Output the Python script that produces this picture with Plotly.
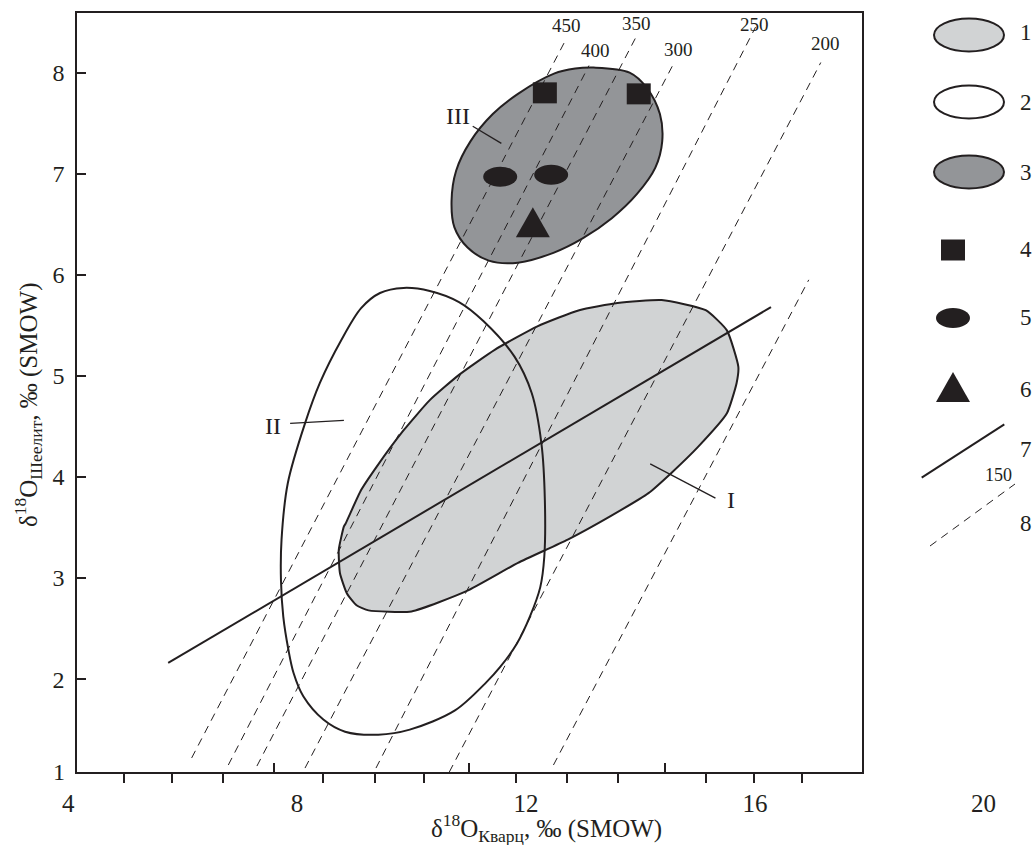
import plotly.graph_objects as go

# ---------------- data ----------------
X_RANGE = [4.157, 17.87]
Y_RANGE = [1.081, 8.59]
X_LABEL_VALUES = [8, 12, 16]
X_LABEL_OUTSIDE = [4, 20]
Y_LABEL_VALUES = [2, 3, 4, 5, 6, 7, 8]
X_TICKS_OUT = [4.97, 5.82, 6.70, 8.46, 9.36, 10.22, 11.83, 12.72, 13.61, 15.14, 15.98, 16.83]
X_TICKS_IN = [7.60, 11.00, 14.43]

# field I (light grey)
reg1_x = [8.85, 9.12, 9.39, 9.86, 10.32, 10.83, 11.46, 12.20, 12.93, 13.60, 14.37, 15.14,
          15.51, 15.71, 15.68, 15.51, 15.01, 14.54, 14.14, 13.47, 12.73, 11.86, 10.96,
          10.00, 9.25, 9.04, 8.87, 8.75, 8.73, 8.82]
reg1_y = [3.54, 3.87, 4.10, 4.46, 4.76, 5.01, 5.26, 5.49, 5.65, 5.72, 5.75, 5.65,
          5.45, 5.09, 4.93, 4.63, 4.30, 4.04, 3.84, 3.61, 3.38, 3.15, 2.87,
          2.67, 2.68, 2.73, 2.85, 3.05, 3.28, 3.51]

# field II (open)
reg2_x = [9.86, 10.32, 10.83, 11.26, 11.80, 12.10, 12.27, 12.33, 12.32, 12.25, 12.07, 11.84,
          11.55, 11.31, 10.76, 9.97, 9.42, 8.84, 8.46, 8.11, 7.94, 7.85, 7.76, 7.72, 7.73,
          7.84, 8.14, 8.40, 8.77, 9.12, 9.45]
reg2_y = [5.87, 5.84, 5.73, 5.54, 5.19, 4.83, 4.33, 3.77, 3.21, 2.91, 2.62, 2.35,
          2.12, 1.97, 1.69, 1.50, 1.45, 1.48, 1.60, 1.83, 2.06, 2.29, 2.62, 2.98, 3.38,
          3.94, 4.53, 4.93, 5.35, 5.67, 5.82]

# field III (dark grey)
reg3_x = [13.18, 13.81, 14.11, 14.34, 14.38, 14.26, 13.94, 13.50, 12.99, 12.49, 11.86, 11.35,
          10.98, 10.75, 10.70, 10.78, 11.03, 11.42, 11.86, 12.49, 12.86]
reg3_y = [8.05, 8.00, 7.85, 7.59, 7.32, 7.06, 6.80, 6.56, 6.36, 6.22, 6.12, 6.14,
          6.27, 6.47, 6.73, 7.03, 7.32, 7.59, 7.79, 7.99, 8.04]

# samples
square_x = [12.33, 13.97]
square_y = [7.80, 7.79]
oval_x = [11.55, 12.44]
oval_y = [6.97, 6.99]
tri_x = [12.12]
tri_y = [6.52]

# regression line (7)
line7_x = [5.75, 16.28]
line7_y = [2.16, 5.68]

# isotherms (8), in degrees
iso_labels = ["450", "400", "350", "300", "250", "200", ""]
iso_x0 = [6.16, 6.80, 7.30, 8.14, 9.38, 10.66, 12.48]
iso_y0 = [1.22, 1.15, 1.14, 1.12, 1.12, 1.08, 1.15]
iso_x1 = [12.69, 13.10, 13.92, 14.58, 16.01, 17.15, 16.94]
iso_y1 = [8.32, 8.07, 8.35, 8.09, 8.45, 8.10, 5.95]
iso_lab_x = [12.70, 13.22, 13.93, 14.67, 16.00, 17.24, None]
iso_lab_y = [8.47, 8.22, 8.49, 8.23, 8.48, 8.29, None]

# field names and leaders
field_names = ["I", "II", "III"]
field_lab_x = [15.58, 7.58, 10.81]
field_lab_y = [3.77, 4.50, 7.57]
leader_x0 = [14.17, 8.82, 11.57]
leader_y0 = [4.13, 4.56, 7.30]
leader_x1 = [15.31, 7.88, 11.07]
leader_y1 = [3.79, 4.53, 7.47]

legend_numbers = ["1", "2", "3", "4", "5", "6", "7", "8"]

# ---------------- style ----------------
INK = "#231f20"
LIGHT = "#d1d3d4"
DARK = "#939598"
FONT = "Liberation Serif"
W, H = 1034, 845
ML, MR, MT, MB = 77, 0, 13, 73
PLOT_RIGHT = 862
DOM = (PLOT_RIGHT - ML) / (W - ML - MR)


def px2paper_x(px):
    return (px - ML) / (W - ML - MR)


def px2paper_y(py):
    return (H - MB - py) / (H - MT - MB)


def data2paper_x(v):
    return (v - X_RANGE[0]) / (X_RANGE[1] - X_RANGE[0]) * DOM


fig = go.Figure()

# field I
fig.add_trace(go.Scatter(x=reg1_x + reg1_x[:1], y=reg1_y + reg1_y[:1], mode="lines",
                         fill="toself", fillcolor=LIGHT,
                         line=dict(color=INK, width=2, shape="spline", smoothing=0.5),
                         hoverinfo="skip", showlegend=False))
# field III
fig.add_trace(go.Scatter(x=reg3_x + reg3_x[:1], y=reg3_y + reg3_y[:1], mode="lines",
                         fill="toself", fillcolor=DARK,
                         line=dict(color=INK, width=2, shape="spline", smoothing=1.0),
                         hoverinfo="skip", showlegend=False))
# field II
fig.add_trace(go.Scatter(x=reg2_x + reg2_x[:1], y=reg2_y + reg2_y[:1], mode="lines",
                         line=dict(color=INK, width=2, shape="spline", smoothing=0.9),
                         hoverinfo="skip", showlegend=False))
# isotherms
for i in range(len(iso_x0)):
    fig.add_trace(go.Scatter(x=[iso_x0[i], iso_x1[i]], y=[iso_y0[i], iso_y1[i]], mode="lines",
                             line=dict(color=INK, width=1, dash="8px,6px"),
                             hoverinfo="skip", showlegend=False))
# regression line
fig.add_trace(go.Scatter(x=line7_x, y=line7_y, mode="lines",
                         line=dict(color=INK, width=2), hoverinfo="skip", showlegend=False))
# dummy trace for the second x axis (inside ticks)
fig.add_trace(go.Scatter(x=[X_RANGE[0]], y=[Y_RANGE[0]], xaxis="x2", mode="markers",
                         marker=dict(opacity=0), hoverinfo="skip", showlegend=False))

shapes = []
# samples as pixel-sized shapes anchored at data values
for x, y in zip(square_x, square_y):
    shapes.append(dict(type="rect", xref="x", yref="y", xsizemode="pixel", ysizemode="pixel",
                       xanchor=x, yanchor=y, x0=-12, x1=12, y0=-10.5, y1=10.5,
                       fillcolor=INK, line=dict(width=0)))
for x, y in zip(oval_x, oval_y):
    shapes.append(dict(type="circle", xref="x", yref="y", xsizemode="pixel", ysizemode="pixel",
                       xanchor=x, yanchor=y, x0=-17, x1=17, y0=-10, y1=10,
                       fillcolor=INK, line=dict(width=0)))
TRI_PATH = "M-17,-15 L17,-15 L0,15 Z"
for x, y in zip(tri_x, tri_y):
    shapes.append(dict(type="path", xref="x", yref="y", xsizemode="pixel", ysizemode="pixel",
                       xanchor=x, yanchor=y, path=TRI_PATH,
                       fillcolor=INK, line=dict(width=0)))
# leaders
for i in range(len(field_names)):
    shapes.append(dict(type="line", xref="x", yref="y", x0=leader_x0[i], y0=leader_y0[i],
                       x1=leader_x1[i], y1=leader_y1[i], line=dict(color=INK, width=1.3)))

# legend symbols
LEG_X_BIG = 969
LEG_X_SMALL = 953
leg_fill = [LIGHT, "white", DARK]
leg_y_big = [35, 102, 172]
for fc, py in zip(leg_fill, leg_y_big):
    shapes.append(dict(type="circle", xref="paper", yref="paper", xsizemode="pixel",
                       ysizemode="pixel", xanchor=px2paper_x(LEG_X_BIG), yanchor=px2paper_y(py),
                       x0=-35, x1=35, y0=-16.5, y1=16.5, fillcolor=fc,
                       line=dict(color=INK, width=2)))
shapes.append(dict(type="rect", xref="paper", yref="paper", xsizemode="pixel", ysizemode="pixel",
                   xanchor=px2paper_x(LEG_X_SMALL), yanchor=px2paper_y(250),
                   x0=-12, x1=12, y0=-10.5, y1=10.5, fillcolor=INK, line=dict(width=0)))
shapes.append(dict(type="circle", xref="paper", yref="paper", xsizemode="pixel", ysizemode="pixel",
                   xanchor=px2paper_x(LEG_X_SMALL), yanchor=px2paper_y(318),
                   x0=-17, x1=17, y0=-10, y1=10, fillcolor=INK, line=dict(width=0)))
shapes.append(dict(type="path", xref="paper", yref="paper", xsizemode="pixel", ysizemode="pixel",
                   xanchor=px2paper_x(LEG_X_SMALL), yanchor=px2paper_y(387),
                   path=TRI_PATH, fillcolor=INK, line=dict(width=0)))
shapes.append(dict(type="line", xref="paper", yref="paper",
                   x0=px2paper_x(921.7), y0=px2paper_y(477.7),
                   x1=px2paper_x(1004.3), y1=px2paper_y(424.3),
                   line=dict(color=INK, width=2)))
shapes.append(dict(type="line", xref="paper", yref="paper",
                   x0=px2paper_x(930), y0=px2paper_y(546),
                   x1=px2paper_x(1015), y1=px2paper_y(484),
                   line=dict(color=INK, width=1, dash="8px,6px")))


def note(x, y, text, size, xref="paper", yref="paper", **kw):
    return dict(x=x, y=y, xref=xref, yref=yref, text=text, showarrow=False,
                xanchor=kw.pop("xanchor", "center"), yanchor=kw.pop("yanchor", "middle"),
                font=dict(family=FONT, size=size, color=INK), **kw)


annotations = []
# isotherm labels
for lab, x, y in zip(iso_labels, iso_lab_x, iso_lab_y):
    if lab:
        annotations.append(note(x, y, lab, 19, xref="x", yref="y"))
# field labels
for lab, x, y in zip(field_names, field_lab_x, field_lab_y):
    annotations.append(note(x, y, lab, 24, xref="x", yref="y"))
# legend numbers
leg_num_y = [32, 102, 172, 250, 317, 390, 450, 523]
for lab, py in zip(legend_numbers, leg_num_y):
    annotations.append(note(px2paper_x(1026), px2paper_y(py), lab, 23))
annotations.append(note(px2paper_x(998), px2paper_y(475), "150", 18))
# tick labels lying outside the axis range
for v in X_LABEL_OUTSIDE:
    annotations.append(note(data2paper_x(v), px2paper_y(803), str(v), 25))
annotations.append(note(px2paper_x(67), 0, "1", 24, xanchor="right"))
# axis titles
annotations.append(note(px2paper_x(546), px2paper_y(828),
                        "δ<sup>18</sup>O<sub>Кварц</sub>, ‰ (SMOW)", 25))
annotations.append(note(px2paper_x(28), px2paper_y(405),
                        "δ<sup>18</sup>O<sub>Шеелит</sub>, ‰ (SMOW)", 25, textangle=-90))

fig.update_layout(
    template="none",
    width=W, height=H,
    margin=dict(l=ML, r=MR, t=MT, b=MB, pad=0, autoexpand=False),
    paper_bgcolor="white", plot_bgcolor="white",
    showlegend=False,
    font=dict(family=FONT, color=INK),
    xaxis=dict(domain=[0, DOM], range=X_RANGE, showgrid=False, zeroline=False,
               automargin=False,
               showline=True, mirror=True, linecolor=INK, linewidth=1.5,
               tickmode="array", tickvals=X_LABEL_VALUES,
               ticktext=[str(v) for v in X_LABEL_VALUES], ticks="",
               ticklabelstandoff=8,
               tickfont=dict(family=FONT, size=25, color=INK),
               minor=dict(tickmode="array", tickvals=X_TICKS_OUT, ticks="outside",
                          ticklen=9, tickwidth=1.5, tickcolor=INK, showgrid=False)),
    xaxis2=dict(overlaying="x", anchor="y", side="bottom", range=X_RANGE,
                automargin=False,
                showgrid=False, zeroline=False, showline=False,
                tickmode="array", tickvals=X_TICKS_IN, ticks="inside", ticklen=9,
                tickwidth=1.5, tickcolor=INK, showticklabels=False),
    yaxis=dict(range=Y_RANGE, showgrid=False, zeroline=False,
               automargin=False,
               showline=True, mirror=True, linecolor=INK, linewidth=1.5,
               tickmode="array", tickvals=Y_LABEL_VALUES,
               ticktext=[str(v) for v in Y_LABEL_VALUES],
               ticks="inside", ticklen=9, tickwidth=1.5, tickcolor=INK,
               ticklabelstandoff=6,
               tickfont=dict(family=FONT, size=24, color=INK)),
    shapes=shapes,
    annotations=annotations,
)

fig.write_html("out.html", config={"displayModeBar": False},
               post_script="document.body.style.margin='0px';")
